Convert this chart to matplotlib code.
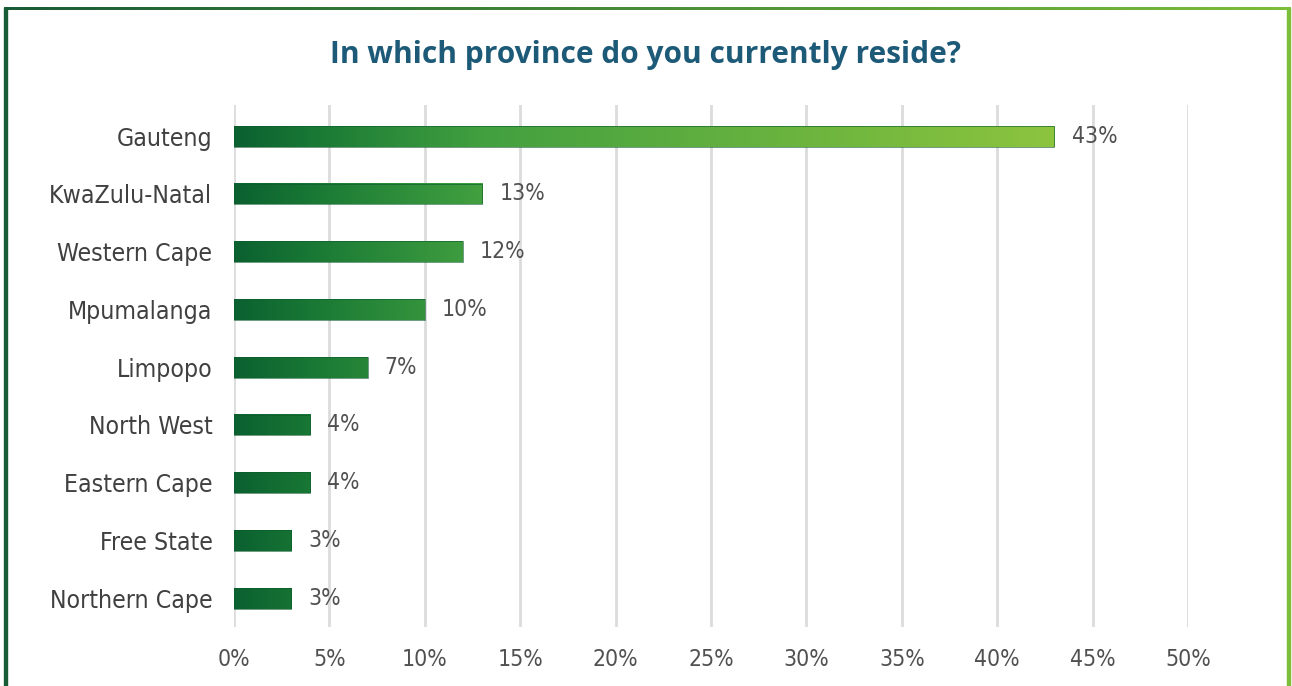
import matplotlib.pyplot as plt
import numpy as np
from matplotlib.colors import LinearSegmentedColormap

provinces = ['Gauteng', 'KwaZulu-Natal', 'Western Cape', 'Mpumalanga', 'Limpopo',
             'North West', 'Eastern Cape', 'Free State', 'Northern Cape']
shares = [43, 13, 12, 10, 7, 4, 4, 3, 3]
ticks = [0, 5, 10, 15, 20, 25, 30, 35, 40, 45, 50]

green = LinearSegmentedColormap.from_list(
    'green', [(0, '#0b6130'), (0.1, '#1a7a35'), (0.3, '#42a040'), (1, '#8cc43e')])
label_font = dict(family='DejaVu Sans', stretch='condensed', fontsize=16.5)

fig = plt.figure(figsize=(12.92, 6.86), dpi=100)
ax = fig.add_axes([234 / 1292, 59 / 686, 954 / 1292, 522 / 686])

top = max(shares)
h = 0.36
for i, v in enumerate(shares):
    # colour runs along the value axis, so longer bars reach the lighter green
    grad = np.linspace(0, v / top, 256).reshape(1, -1)
    ax.imshow(grad, cmap=green, vmin=0, vmax=1, aspect='auto',
              extent=(0, v, i + h / 2, i - h / 2), zorder=3, interpolation='bilinear')
    ax.add_patch(plt.Rectangle((0, i - h / 2), v, h, fill=False,
                               edgecolor='#0d5a2c', alpha=0.6, linewidth=0.7, zorder=4))
    ax.text(v + 0.9, i, f'{v}%', va='center', ha='left', color='#505050', **label_font)

ax.set_xlim(0, 50)
ax.set_ylim(8.5, -0.54)
ax.set_xticks(ticks)
ax.set_xticklabels([f'{t}%' for t in ticks], color='#505050', **label_font)
ax.set_yticks(range(len(provinces)))
ax.set_yticklabels(provinces, color='#404040', family='DejaVu Sans',
                   stretch='condensed', fontsize=17.8)
ax.tick_params(length=0)
ax.tick_params(axis='x', pad=15)
ax.tick_params(axis='y', pad=15.5)
ax.grid(axis='x', color='#dcdcdc', linewidth=2)
ax.set_axisbelow(True)
for s in ax.spines.values():
    s.set_visible(False)

fig.text(0.5, 1 - 55 / 686, 'In which province do you currently reside?', ha='center',
         va='center', fontsize=21.5, fontweight='bold', color='#1d5a78', family='Open Sans')

# frame: dark green on the left fading to lime on the right
bar_top = fig.add_axes([4 / 1292, 1 - 10 / 686, 1287 / 1292, 3 / 686])
bar_top.imshow(np.linspace(0, 1, 256).reshape(1, -1), aspect='auto',
               cmap=LinearSegmentedColormap.from_list('frame', ['#175c36', '#7cbd3a']))
bar_top.axis('off')
fig.add_artist(plt.Rectangle((4 / 1292, 0), 3 / 1292, 1 - 8 / 686,
                             transform=fig.transFigure, color='#175c36'))
fig.add_artist(plt.Rectangle((1287 / 1292, 0), 3 / 1292, 1 - 8 / 686,
                             transform=fig.transFigure, color='#7cbd3a'))

fig.savefig('out.png', dpi=100)
